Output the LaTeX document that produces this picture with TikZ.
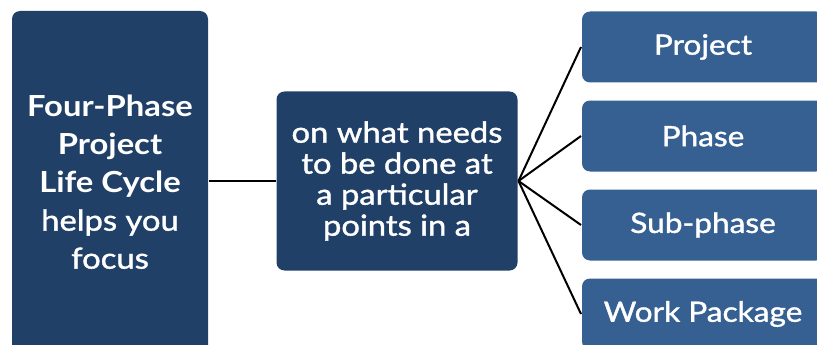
\documentclass[tikz,border=0pt]{standalone}
\usepackage{fontspec}
\setmainfont{Lato}[FakeStretch=1.13]
\newfontfamily\medfont{Lato}[FakeStretch=1.13 ,FakeBold=1.3]
\usetikzlibrary{positioning}
\definecolor{navy}{RGB}{32,64,104}
\definecolor{steel}{RGB}{53,96,145}

\begin{document}
\begin{tikzpicture}[x=1pt ,y=-1pt ,node distance =89pt and 2cm ,on grid ,
    line width=2pt ,
    darkbox/.style ={rectangle ,rounded corners=8pt ,fill=navy ,
    text=white ,align=center ,inner sep=0pt},
    levelbox/.style={rectangle ,rounded corners=8pt ,fill=steel ,text=white ,
    minimum width=242pt ,minimum height=71pt ,font=\medfont\fontsize{28}{32}\selectfont}
    ]
    \clip (0,0) rectangle (817,345);
    \node (cycle) [darkbox ,minimum width=196pt ,minimum height=342pt ,
      font=\fontsize{29}{38}\selectfont] at (110,182)
      {\textbf{Four-Phase}\\ \textbf{Project}\\ \textbf{Life Cycle}\\ {\medfont helps you}\\ {\medfont focus}};
    \node (needs) [darkbox ,minimum width=241pt ,minimum height=179pt ,
      font=\medfont\fontsize{29}{31}\selectfont] at (397,181)
      {on what needs\\ to be done at\\ a particular\\ points in a};
    \node (project) [levelbox] at (703,47) {Project};
    \node (phase) [levelbox ,below = of project] {Phase};
    \node (subphase) [levelbox ,below = of phase] {Sub-phase};
    \node (package) [levelbox ,below = of subphase] {Work Package};
    \draw (cycle.east |- needs.west) -- (needs.west);
    \foreach \n in {project,phase,subphase,package}
      \draw (needs.east) -- (\n.west);
    \end{tikzpicture}
\end{document}
